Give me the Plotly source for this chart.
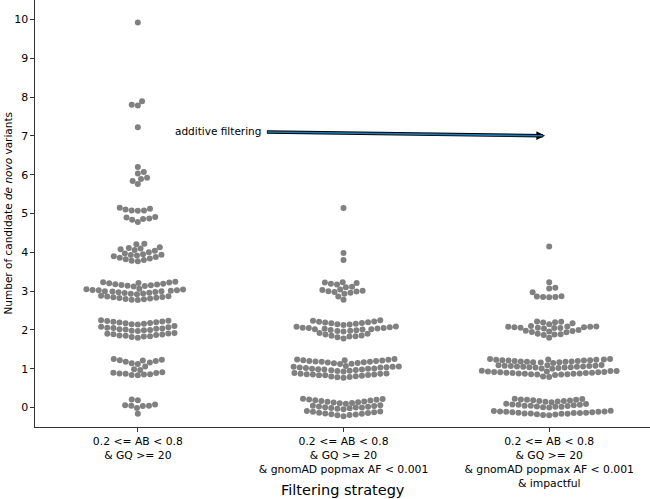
import numpy as np
import plotly.graph_objects as go

categories = [
    "0.2 &lt;= AB &lt; 0.8<br>&amp; GQ &gt;= 20",
    "0.2 &lt;= AB &lt; 0.8<br>&amp; GQ &gt;= 20<br>&amp; gnomAD popmax AF &lt; 0.001",
    "0.2 &lt;= AB &lt; 0.8<br>&amp; GQ &gt;= 20<br>&amp; gnomAD popmax AF &lt; 0.001<br>&amp; impactful",
]

strategy1_counts = [
    0.21, 0.19, 0.08, 0.06, 0.05, 0.05, 0.04, -0.01, -0.16,
    1.25, 1.23, 1.22, 1.21, 1.20, 1.18, 1.16, 1.14, 1.12, 1.06, 0.99, 0.97,
    0.91, 0.90, 0.89, 0.88, 0.87, 0.86, 0.85, 0.84, 0.83,
    2.25, 2.24, 2.23, 2.22, 2.21, 2.20, 2.19, 2.18, 2.17, 2.16, 2.15, 2.14,
    2.10, 2.08, 2.07, 2.06, 2.05, 2.04, 2.03, 2.02, 2.01, 2.00, 1.99, 1.98, 1.97,
    1.92, 1.91, 1.90, 1.89, 1.88, 1.87, 1.86, 1.85, 1.84, 1.83, 1.82, 1.80,
    3.24, 3.23, 3.22, 3.21, 3.20, 3.19, 3.18, 3.17, 3.16, 3.15, 3.14, 3.13, 3.12,
    3.06, 3.05, 3.04, 3.03, 3.02, 3.02, 3.01, 3.00, 3.00, 2.99, 2.98, 2.97, 2.96,
    2.95, 2.94, 2.93, 2.92,
    2.88, 2.87, 2.86, 2.85, 2.84, 2.83, 2.82, 2.81, 2.80, 2.79, 2.78, 2.77,
    4.22, 4.21, 4.13, 4.11, 4.10, 4.08, 4.06, 4.04, 4.00, 3.97, 3.95, 3.94, 3.93,
    3.92, 3.90, 3.88, 3.86, 3.84, 3.82, 3.80, 3.78, 3.77,
    5.15, 5.12, 5.10, 5.08, 5.08, 5.07, 4.91, 4.90, 4.87, 4.86, 4.84, 4.78,
    6.20, 6.07, 6.03, 5.92, 5.89, 5.84, 5.76,
    7.22, 7.80, 7.78, 7.89, 9.92,
]

strategy2_counts = [
    0.23, 0.22, 0.21, 0.20, 0.19, 0.18, 0.17, 0.16, 0.15, 0.14, 0.13, 0.12, 0.11, 0.10,
    0.06, 0.05, 0.04, 0.03, 0.02, 0.01, 0.00, 0.00, -0.01, -0.02, -0.03, -0.04,
    -0.09, -0.10, -0.11, -0.12, -0.13, -0.14, -0.15, -0.16, -0.17, -0.18, -0.19, -0.20, -0.22,
    1.25, 1.24, 1.23, 1.22, 1.22, 1.21, 1.20, 1.20, 1.19, 1.18, 1.18, 1.17, 1.16, 1.15,
    1.14, 1.13, 1.12,
    1.07, 1.06, 1.05, 1.05, 1.04, 1.03, 1.03, 1.02, 1.01, 1.00, 1.00, 0.99, 0.98, 0.98,
    0.97, 0.96, 0.95, 0.94, 0.93,
    0.89, 0.88, 0.87, 0.87, 0.86, 0.85, 0.85, 0.84, 0.83, 0.83, 0.82, 0.81, 0.80, 0.79,
    0.78, 0.77,
    2.25, 2.24, 2.22, 2.21, 2.20, 2.19, 2.18, 2.17, 2.16, 2.15, 2.14, 2.13,
    2.09, 2.08, 2.07, 2.06, 2.05, 2.05, 2.04, 2.03, 2.02, 2.02, 2.01, 2.00, 1.99, 1.98,
    1.97, 1.96,
    1.92, 1.90, 1.88, 1.86, 1.85, 1.84, 1.83, 1.81, 1.78,
    3.23, 3.22, 3.21, 3.19, 3.17, 3.11, 3.10, 3.04, 3.03, 3.01, 3.00, 2.99, 2.98, 2.96,
    2.93, 2.86, 2.78,
    3.98, 3.80, 5.14,
]

strategy3_counts = [
    0.23, 0.22, 0.21, 0.20, 0.20, 0.19, 0.18, 0.17, 0.17, 0.16, 0.15, 0.14,
    0.10, 0.09, 0.08, 0.07, 0.07, 0.06, 0.05, 0.05, 0.04, 0.03, 0.02, 0.02, 0.01, 0.00,
    -0.08, -0.09, -0.10, -0.10, -0.11, -0.11, -0.12, -0.12, -0.13, -0.13, -0.14, -0.14,
    -0.15, -0.15, -0.16, -0.16, -0.17, -0.18, -0.19, -0.20,
    1.25, 1.25, 1.24, 1.24, 1.23, 1.23, 1.22, 1.22, 1.21, 1.21, 1.20, 1.20, 1.19, 1.19,
    1.18, 1.18, 1.17, 1.17, 1.16, 1.15,
    1.10, 1.09, 1.09, 1.08, 1.08, 1.07, 1.07, 1.06, 1.06, 1.05, 1.05, 1.04, 1.04, 1.03,
    1.03, 1.02, 1.01, 1.00,
    0.95, 0.94, 0.94, 0.93, 0.93, 0.92, 0.92, 0.91, 0.91, 0.90, 0.90, 0.89, 0.89, 0.88,
    0.88, 0.87, 0.87, 0.86, 0.86, 0.85, 0.85, 0.84, 0.80, 0.79,
    2.22, 2.21, 2.20, 2.19, 2.17, 2.15,
    2.10, 2.09, 2.09, 2.08, 2.08, 2.07, 2.07, 2.06, 2.06, 2.05, 2.05, 2.04,
    2.00, 1.98, 1.97, 1.96, 1.95, 1.94, 1.90, 1.89, 1.88, 1.87, 1.80,
    3.23, 3.09, 3.07, 2.97, 2.87, 2.86, 2.85, 2.85, 2.84,
    4.15,
]

groups = [strategy1_counts, strategy2_counts, strategy3_counts]

# ---- layout geometry (pixels) ----
W, H = 650, 499
ML, MR, MT, MB = 35, 0, 0, 72
XR = [-0.5, 2.49]
YR = [-0.5, 10.5]
px_x = (W - ML - MR) / (XR[1] - XR[0])
px_y = (H - MT - MB) / (YR[1] - YR[0])
DOT = 6.0          # marker diameter in px
R = DOT / 2 * 0.98  # swarm radius in px


def beeswarm_offsets(values):
    """seaborn-like beeswarm: returns horizontal offsets (in px) for each value."""
    vals = np.asarray(values, float)
    order = np.argsort(vals, kind="mergesort")
    ys = vals[order] * px_y
    placed = []  # (x, y)
    out = np.zeros(len(vals))
    for k, y in enumerate(ys):
        neigh = [(xj, yj) for xj, yj in placed if abs(y - yj) < 2 * R]
        cands = [0.0]
        left_first = True
        for xj, yj in neigh:
            dy = y - yj
            dx = np.sqrt(max((2 * R) ** 2 - dy ** 2, 0)) * 1.05
            pair = [xj - dx, xj + dx] if left_first else [xj + dx, xj - dx]
            cands.extend(pair)
            left_first = not left_first
        cands = sorted(cands, key=lambda c: abs(c))
        chosen = cands[0]
        if neigh:
            for c in cands:
                ok = all((xj - c) ** 2 + (yj - y) ** 2 >= (2 * R) ** 2 - 1e-9 for xj, yj in neigh)
                if ok:
                    chosen = c
                    break
        placed.append((chosen, y))
        out[order[k]] = chosen
    return out


fig = go.Figure()
for i, vals in enumerate(groups):
    offs = beeswarm_offsets(vals) / px_x
    fig.add_trace(go.Scatter(
        x=i + offs, y=vals, mode="markers",
        marker=dict(size=DOT, color="#808080", line=dict(width=0)),
        hoverinfo="y", showlegend=False,
    ))

font_family = "DejaVu Sans"

fig.update_layout(
    width=W, height=H,
    margin=dict(l=ML, r=MR, t=MT, b=MB, autoexpand=False),
    plot_bgcolor="white", paper_bgcolor="white",
    font=dict(family=font_family, color="black", size=10.5),
    xaxis=dict(
        range=XR, tickmode="array", tickvals=[0, 1, 2], ticktext=categories,
        showgrid=False, zeroline=False, showline=True, linecolor="#333333", linewidth=1.2,
        ticks="outside", ticklen=3.5, tickwidth=0.8, tickcolor="#333333",
        tickfont=dict(size=10.8), automargin=False,
    ),
    yaxis=dict(
        range=YR, tickmode="array", tickvals=list(range(0, 11)),
        showgrid=False, zeroline=False, showline=True, linecolor="#333333", linewidth=1.2,
        ticks="outside", ticklen=3.5, tickwidth=0.8, tickcolor="#333333",
        tickfont=dict(size=11), automargin=False,
    ),
)

# axis titles
fig.add_annotation(
    text="Filtering strategy", xref="paper", yref="paper",
    x=0.5, y=-(490 - 427) / 427, showarrow=False,
    xanchor="center", yanchor="middle", font=dict(size=14.5),
)
fig.add_annotation(
    text="Number of candidate <i>de novo</i> variants", xref="paper", yref="paper",
    x=-(35 - 7) / 615, y=0.5, showarrow=False, textangle=-90,
    xanchor="center", yanchor="middle", font=dict(size=10.5),
)

# additive filtering arrow
fig.add_annotation(
    text="additive filtering", x=0.62, y=7.12, xref="x", yref="y",
    showarrow=False, xanchor="right", yanchor="middle", xshift=-2,
    font=dict(size=10.5),
)
fig.add_annotation(
    text="", x=1.98, y=7.0, ax=0.62, ay=7.1, xref="x", yref="y",
    axref="x", ayref="y", showarrow=True, arrowhead=2, arrowsize=0.5,
    arrowwidth=3.5, arrowcolor="black",
)
fig.add_annotation(
    text="", x=1.968, y=7.001, ax=0.623, ay=7.1, xref="x", yref="y",
    axref="x", ayref="y", showarrow=True, arrowhead=0,
    arrowwidth=1.6, arrowcolor="#1f77b4",
)

fig.write_html(
    "out.html",
    config={"displayModeBar": False},
    post_script="document.body.style.margin='0';document.body.style.overflow='hidden';",
)
